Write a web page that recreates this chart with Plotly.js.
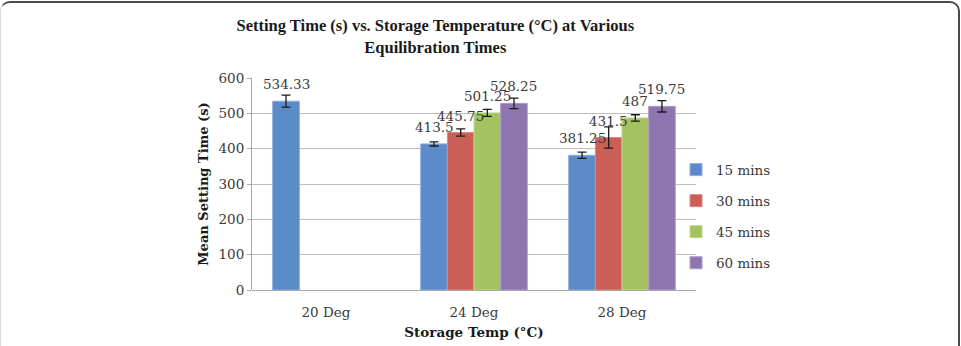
<!DOCTYPE html>
<html>
<head>
<meta charset="utf-8">
<script src="https://cdn.plot.ly/plotly-3.0.1.min.js"></script>
<style>
  html, body { margin: 0; padding: 0; background: #fff; }
  #wrap { position: relative; width: 961px; height: 346px; overflow: hidden; }
  #chart { position: absolute; left: 0; top: 0; width: 961px; height: 346px; }
  #frame { position: absolute; left: 0; top: 1px; width: 960px; height: 360px;
           border-top: 2px solid #4a4a4a; border-right: 2px solid #4a4a4a; border-left: 1px solid #d8d8d8;
           border-radius: 10px 10px 0 0; pointer-events: none; box-sizing: border-box; }
</style>
</head>
<body>
<div id="wrap"><div id="chart"></div><div id="frame"></div></div>
<script>
// ---- data ----
var categories = ['20 Deg', '24 Deg', '28 Deg'];
var seriesNames = ['15 mins', '30 mins', '45 mins', '60 mins'];
var s15 = [534.33, 413.5, 381.25];
var s30 = [null, 445.75, 431.5];
var s45 = [null, 501.25, 487];
var s60 = [null, 528.25, 519.75];
var e15 = [17, 6, 9];
var e30 = [null, 10, 30];
var e45 = [null, 10, 9];
var e60 = [null, 15, 16];
var labels15 = ['534.33', '413.5', '381.25'];
var labels30 = [null, '445.75', '431.5'];
var labels45 = [null, '501.25', '487'];
var labels60 = [null, '528.25', '519.75'];
var yTicks = [0, 100, 200, 300, 400, 500, 600];

// ---- styling ----
var fills = ['#5B8BC8', '#CB5E57', '#A3C260', '#8D76B0'];
var edges = ['#8DAEDB', '#DC8A85', '#C0D78E', '#AD9CC8'];
var values = [s15, s30, s45, s60];
var errs = [e15, e30, e45, e60];
var labs = [labels15, labels30, labels45, labels60];

var W = 961, H = 346;
var margin = {l: 252, r: 265, t: 78, b: 56};
var bargap = 0.28;
var serif = '"DejaVu Serif", serif';

var traces = values.map(function (v, i) {
  return {
    type: 'bar', name: seriesNames[i], x: categories, y: v,
    legendgroup: 'g' + i,
    marker: {color: fills[i], line: {color: edges[i], width: 1}},
    error_y: {type: 'data', array: errs[i], visible: true, color: '#1a1a1a', thickness: 1.3, width: 4.5},
    hoverinfo: 'skip'
  };
});

// data labels positioned through the axes
var plotW = W - margin.l - margin.r;
var catW = plotW / categories.length;
var barW = catW * (1 - bargap) / values.length;
var annotations = [];
values.forEach(function (v, i) {
  v.forEach(function (val, j) {
    if (val === null) return;
    annotations.push({
      x: categories[j], y: val, xref: 'x', yref: 'y',
      text: labs[i][j], showarrow: false,
      xshift: (i - (values.length - 1) / 2) * barW, yshift: 17,
      yanchor: 'middle', xanchor: 'center',
      font: {family: serif, size: 13.5, color: '#3a3a3a'}
    });
  });
});

var layout = {
  width: W, height: H, margin: margin,
  paper_bgcolor: '#ffffff', plot_bgcolor: '#ffffff',
  barmode: 'group', bargap: bargap, bargroupgap: 0,
  title: {
    text: 'Setting Time (s) vs. Storage Temperature (°C) at Various<br>Equilibration Times',
    x: 0.453, xanchor: 'center', xref: 'container', y: 0.91, yanchor: 'top', yref: 'container',
    font: {family: '"Liberation Serif", serif', size: 16.5, color: '#1a1a1a', weight: 'bold'}
  },
  xaxis: {
    type: 'category', showgrid: false, zeroline: false,
    showline: false, ticks: '', ticklabelstandoff: 12,
    tickfont: {family: serif, size: 13.5, color: '#3a3a3a'},
    title: {text: 'Storage Temp (°C)', standoff: 9,
            font: {family: serif, size: 13.5, color: '#1a1a1a', weight: 'bold'}}
  },
  yaxis: {
    range: [0, 600], tickvals: yTicks, ticktext: yTicks.map(String),
    showgrid: true, gridcolor: '#BDBDBD', gridwidth: 1,
    zeroline: true, zerolinecolor: '#A8A8A8', zerolinewidth: 1,
    showline: true, linecolor: '#A8A8A8', linewidth: 1,
    ticks: 'outside', ticklen: 4, tickcolor: '#A8A8A8',
    tickfont: {family: serif, size: 13.5, color: '#3a3a3a'},
    title: {text: 'Mean Setting Time (s)', standoff: 6,
            font: {family: serif, size: 13, color: '#1a1a1a', weight: 'bold'}}
  },
  showlegend: true,
  legend: {
    x: 0.955, xanchor: 'left', y: 0.64, yanchor: 'top',
    traceorder: 'grouped', tracegroupgap: 10.5,
    font: {family: serif, size: 13.5, color: '#3a3a3a'},
    bgcolor: 'rgba(0,0,0,0)', itemclick: false, itemdoubleclick: false
  },
  annotations: annotations
};

Plotly.newPlot('chart', traces, layout, {staticPlot: true, displayModeBar: false});
</script>
</body>
</html>
